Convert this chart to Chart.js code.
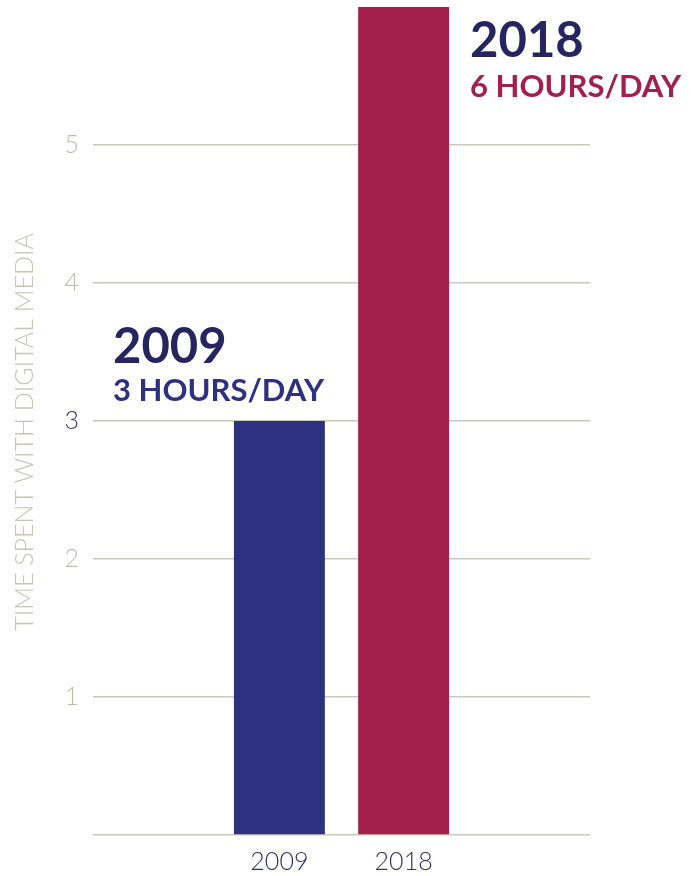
<!DOCTYPE html>
<html>
<head>
  <title>Time spent with digital media</title>
  <script src="https://cdn.jsdelivr.net/npm/chart.js"></script>
  <style>
    html, body { margin: 0; padding: 0; background: #fff; }
    #wrap { width: 695px; height: 876px; }
  </style>
</head>
<body>
  <div id="wrap"><canvas id="media-chart"></canvas></div>

  <script>
    // data
    let years = ["", "2009", "2018", ""];
    let hoursPerDay = [null, 3, 6, null];
    let barColors = ["#2e3180", "#2e3180", "#a3204c", "#a3204c"];
    let yTicks = [1, 2, 3, 4, 5];
    let calloutYears = ["2009", "2018"];
    let calloutTexts = ["3 HOURS/DAY", "6 HOURS/DAY"];

    let gridColor = "#cac9bd";
    let softGray = "#bdbcae";
    let navy = "#2e3180";
    let darkNavy = "#27255f";

    // big labels next to the bars
    let calloutPlugin = {
      id: "callouts",
      afterDraw(chart) {
        let ctx = chart.ctx;
        let bars = chart.getDatasetMeta(0).data;
        let b2009 = bars[1];
        let b2018 = bars[2];
        ctx.save();
        ctx.textAlign = "left";
        ctx.textBaseline = "alphabetic";

        // 2009 sits up and left of its bar
        let x1 = chart.chartArea.left + 20;
        ctx.fillStyle = darkNavy;
        ctx.font = "bold 49px Lato";
        ctx.fillText(calloutYears[0], x1, b2009.y - 58);
        ctx.fillStyle = navy;
        ctx.font = "bold 31px Lato";
        ctx.fillText(calloutTexts[0], x1, b2009.y - 20);

        // 2018 sits right of its bar
        let x2 = b2018.x + b2018.width / 2 + 21;
        ctx.fillStyle = darkNavy;
        ctx.font = "bold 49px Lato";
        ctx.fillText(calloutYears[1], x2, 57);
        ctx.fillStyle = "#a3204c";
        ctx.font = "bold 31px Lato";
        ctx.fillText(calloutTexts[1], x2, 97);

        // axis title
        ctx.translate(25, 432);
        ctx.rotate(-Math.PI / 2);
        ctx.textAlign = "center";
        ctx.textBaseline = "middle";
        ctx.fillStyle = "#c6c5b8";
        ctx.font = "300 25px Lato";
        ctx.fillText("TIME SPENT WITH DIGITAL MEDIA", 0, 0);
        ctx.restore();
      }
    };

    let chart = new Chart(document.getElementById("media-chart"), {
      type: "bar",
      data: {
        labels: years,
        datasets: [{
          data: hoursPerDay,
          backgroundColor: barColors,
          borderWidth: 0,
          categoryPercentage: 1,
          barPercentage: 0.732
        }]
      },
      options: {
        responsive: true,
        maintainAspectRatio: false,
        animation: false,
        layout: { padding: { top: 7, right: 105, left: 0, bottom: 0 } },
        plugins: {
          legend: { display: false },
          tooltip: { enabled: false }
        },
        scales: {
          x: {
            grid: { display: false, drawTicks: false },
            border: { display: false },
            ticks: {
              color: "#2f2e6e",
              font: { family: "Lato", size: 25, weight: "300" },
              padding: 12,
              maxRotation: 0
            },
            afterFit(scale) {
              scale.height = 41;
              scale.paddingLeft = 0;
              scale.paddingRight = 0;
            }
          },
          y: {
            min: 0,
            max: 6,
            border: { display: false },
            grid: {
              drawTicks: false,
              lineWidth: 1.5,
              color: (c) => c.tick && c.tick.value === 6 ? "rgba(0,0,0,0)" : gridColor
            },
            ticks: {
              stepSize: 1,
              padding: 14,
              font: { family: "Lato", size: 25, weight: "300" },
              color: (c) => (c.index === 3 || (c.tick && c.tick.value === 3)) ? navy : softGray,
              callback: (v) => yTicks.includes(v) ? String(v) : ""
            },
            afterFit(scale) {
              scale.width = 93;
              scale.paddingTop = 0;
              scale.paddingBottom = 0;
            }
          }
        }
      },
      plugins: [calloutPlugin]
    });
  </script>
</body>
</html>
